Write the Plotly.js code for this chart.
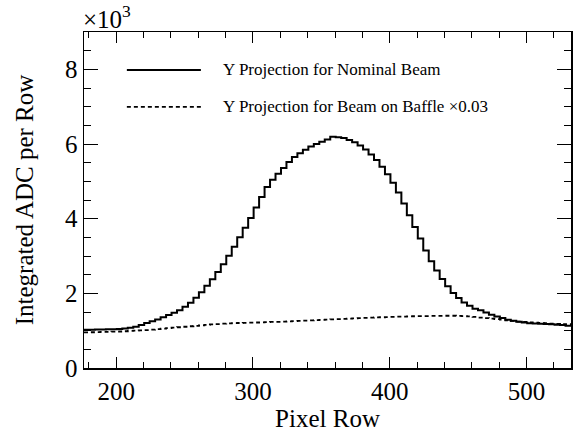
<!DOCTYPE html>
<html>
<head>
<meta charset="utf-8">
<script src="https://cdn.plot.ly/plotly-3.0.1.min.js"></script>
<style>
html,body{margin:0;padding:0;background:#fff;}
#chart{width:575px;height:432px;}
</style>
</head>
<body>
<div id="chart"></div>
<script>
// Bin centres (pixel row), bin width 4
const binCenters = [178.5,182.5,186.5,190.5,194.5,198.5,202.5,206.5,210.5,214.5,218.5,222.5,226.5,230.5,234.5,238.5,242.5,246.5,250.5,254.5,258.5,262.5,266.5,270.5,274.5,278.5,282.5,286.5,290.5,294.5,298.5,302.5,306.5,310.5,314.5,318.5,322.5,326.5,330.5,334.5,338.5,342.5,346.5,350.5,354.5,358.5,362.5,366.5,370.5,374.5,378.5,382.5,386.5,390.5,394.5,398.5,402.5,406.5,410.5,414.5,418.5,422.5,426.5,430.5,434.5,438.5,442.5,446.5,450.5,454.5,458.5,462.5,466.5,470.5,474.5,478.5,482.5,486.5,490.5,494.5,498.5,502.5,506.5,510.5,514.5,518.5,522.5,526.5,530.5];
const binWidth = 4;

const nominalBeam = [1022,1025,1028,1030,1035,1040,1045,1060,1080,1105,1150,1205,1250,1300,1360,1420,1480,1550,1640,1750,1880,2030,2200,2380,2570,2780,3010,3250,3500,3760,4020,4300,4580,4850,5040,5200,5360,5520,5650,5750,5845,5930,6000,6060,6120,6195,6180,6160,6110,6050,5960,5850,5720,5570,5390,5190,4960,4700,4403,4089,3774,3470,3147,2860,2609,2386,2187,2009,1875,1757,1668,1590,1545,1488,1426,1380,1337,1291,1264,1237,1219,1202,1192,1184,1178,1172,1157,1150,1135];

const baffleBeam = [955,958,961,965,969,973,978,985,992,1000,1008,1017,1027,1040,1055,1068,1080,1092,1105,1118,1130,1142,1155,1166,1177,1186,1194,1200,1206,1211,1215,1219,1223,1228,1233,1238,1244,1250,1256,1262,1268,1274,1281,1288,1295,1302,1309,1316,1323,1330,1336,1342,1348,1354,1359,1364,1369,1374,1378,1382,1386,1389,1392,1395,1397,1398,1399,1399,1397,1392,1382,1368,1352,1337,1322,1310,1295,1278,1260,1244,1232,1222,1213,1205,1198,1190,1183,1177,1172];

const yTickVals = [0,2000,4000,6000,8000];
const yTickText = ['0','2','4','6','8'];
const xTickVals = [200,300,400,500];
const legendLabels = ['Y Projection for Nominal Beam','Y Projection for Beam on Baffle \u00d70.03'];

function stepXY(centers, vals){
  const xs = centers.map(c => c - binWidth/2);
  xs.push(centers[centers.length-1] + binWidth/2);
  const ys = vals.slice();
  ys.push(vals[vals.length-1]);
  return {x: xs, y: ys};
}

const FONT = 'Liberation Serif';
const s1 = stepXY(binCenters, nominalBeam);
const s2 = stepXY(binCenters, baffleBeam);

const traces = [
  {x: s2.x, y: s2.y, type:'scatter', mode:'lines', line:{shape:'hv', color:'#000', width:1.8, dash:'4px,3px'}, name: legendLabels[1], showlegend:false, hoverinfo:'skip'},
  {x: s1.x, y: s1.y, type:'scatter', mode:'lines', line:{shape:'hv', color:'#000', width:2}, name: legendLabels[0], showlegend:false, hoverinfo:'skip'}
];

const layout = {
  width: 575, height: 432,
  margin: {l:84, r:4, t:32, b:64, pad:0},
  paper_bgcolor:'#fff', plot_bgcolor:'#fff',
  font: {family: FONT, size: 25, color:'#000'},
  showlegend: false,
  xaxis: {
    range: [176.5, 532.5], showgrid:false, zeroline:false,
    showline:true, linecolor:'#000', linewidth:1.5, mirror:'ticks',
    ticks:'inside', ticklen:11, tickwidth:1, tickcolor:'#000',
    tickvals: xTickVals, ticktext: xTickVals.map(String),
    minor: {dtick:20, tick0:0, ticks:'inside', ticklen:6, tickwidth:1, tickcolor:'#000', showgrid:false},
    tickfont:{family:FONT, size:25, color:'#000'},
    title: {text:'Pixel Row', font:{family:FONT, size:25, color:'#000'}, standoff: 9}
  },
  yaxis: {
    range: [0, 9000], showgrid:false, zeroline:false,
    showline:true, linecolor:'#000', linewidth:1.5, mirror:'ticks',
    ticks:'inside', ticklen:14, tickwidth:1, tickcolor:'#000',
    tickvals: yTickVals, ticktext: yTickText,
    minor: {dtick:500, tick0:0, ticks:'inside', ticklen:7, tickwidth:1, tickcolor:'#000', showgrid:false},
    tickfont:{family:FONT, size:25, color:'#000'},
    title: {text:'Integrated ADC per Row', font:{family:FONT, size:25, color:'#000'}, standoff: 24}
  },
  shapes: [
    {type:'line', xref:'paper', yref:'paper', x0:0.088, x1:0.240, y0:0.887, y1:0.887, line:{color:'#000', width:2}},
    {type:'line', xref:'paper', yref:'paper', x0:0.088, x1:0.240, y0:0.777, y1:0.777, line:{color:'#000', width:1.8, dash:'4px,3px'}}
  ],
  annotations: [
    {xref:'paper', yref:'paper', x:0.281, y:0.887, xanchor:'left', yanchor:'middle', showarrow:false, text: legendLabels[0], font:{family:FONT, size:17, color:'#000'}},
    {xref:'paper', yref:'paper', x:0.281, y:0.777, xanchor:'left', yanchor:'middle', showarrow:false, text: legendLabels[1], font:{family:FONT, size:17, color:'#000'}},
    {xref:'paper', yref:'paper', x:-0.006, y:0.99, xanchor:'left', yanchor:'bottom', showarrow:false, text:'\u00d710<sup>3</sup>', font:{family:FONT, size:25, color:'#000'}}
  ]
};

Plotly.newPlot('chart', traces, layout, {displayModeBar:false, staticPlot:true});
</script>
</body>
</html>
